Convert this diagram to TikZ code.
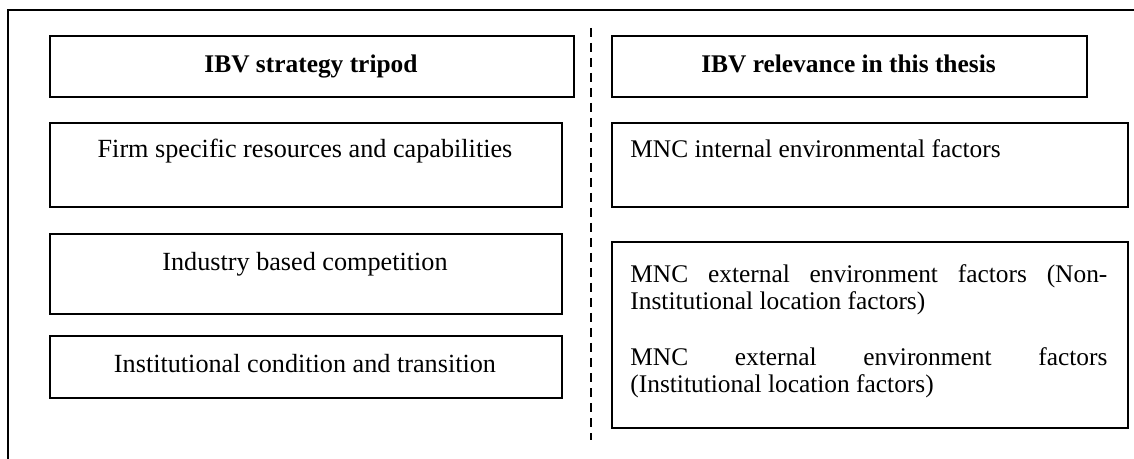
\documentclass[tikz,border=0pt]{standalone}
\usepackage{fontspec}
\setmainfont{Liberation Serif}
\begin{document}
\begin{tikzpicture}[x=0.5pt,y=-0.5pt,
  box/.style={draw, line width=1pt, anchor=north west, inner sep=0pt},
  txt/.style={font=\fontsize{13.1}{13.5}\selectfont, inner sep=0pt},
  rtxt/.style={font=\fontsize{12.7}{13.5}\selectfont, inner sep=0pt},
  btxt/.style={font=\fontsize{12.7}{13.5}\selectfont\bfseries, inner sep=0pt, anchor=base},
  frameline/.style={line width=1pt},
  divider/.style={line width=1pt, dash pattern=on 4.5pt off 3pt}]
\useasboundingbox (0,0) rectangle (1134,459);
% outer frame
\coordinate (fbl) at (8,459);
\coordinate (ftl) at (8,10);
\coordinate (ftr) at (1134,10);
\draw[frameline] (fbl) -- (ftl) -- (ftr);
% divider
\coordinate (dtop) at (591,28);
\coordinate (dbot) at (591,440);
\draw[divider] (dtop) -- (dbot);
% left column
\node[box, minimum width=262pt, minimum height=30.5pt] (hL) at (49,35) {};
\node[btxt] (hLt) at (311,73) {IBV strategy tripod};
\node[box, minimum width=256pt, minimum height=42pt] (L1) at (49,122) {};
\node[txt, anchor=base] (L1t) at (305,158) {Firm specific resources and capabilities};
\node[box, minimum width=256pt, minimum height=40pt] (L2) at (49,233) {};
\node[txt, anchor=base] (L2t) at (305,271) {Industry based competition};
\node[box, minimum width=256pt, minimum height=31pt] (L3) at (49,335) {};
\node[txt, anchor=base] (L3t) at (305,372) {Institutional condition and transition};
% right column
\node[box, minimum width=237.5pt, minimum height=30.5pt] (hR) at (611,35) {};
\node[btxt] (hRt) at (848.5,73) {IBV relevance in this thesis};
\node[box, minimum width=258pt, minimum height=42pt] (R1) at (611,122) {};
\node[rtxt, anchor=base west] (R1t) at (630,158) {MNC internal environmental factors};
\node[box, minimum width=258pt, minimum height=93pt] (R2) at (611,241) {};
\node[rtxt, anchor=base west] (R2a) at (630,283) {\parbox[t]{238.5pt}{MNC\hfill external\hfill environment\hfill factors\hfill (Non-\\Institutional location factors)}};
\node[rtxt, anchor=base west] (R2b) at (630,365) {\parbox[t]{238.5pt}{MNC\hfill external\hfill environment\hfill factors\\(Institutional location factors)}};
\end{tikzpicture}
\end{document}
